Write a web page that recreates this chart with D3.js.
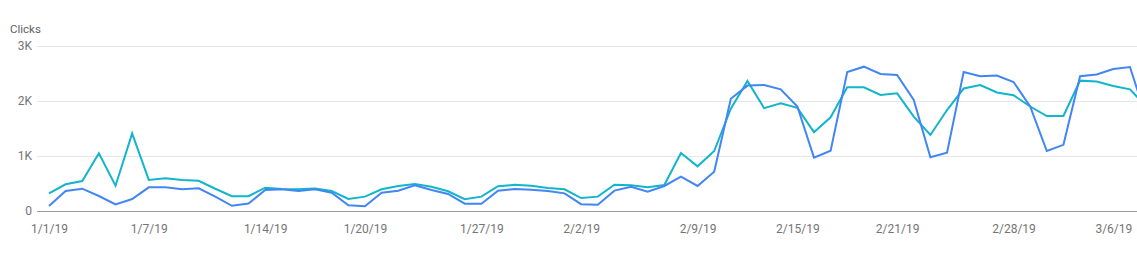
<!DOCTYPE html>
<html>
<head>
<meta charset="utf-8">
<script src="https://cdn.jsdelivr.net/npm/d3@7"></script>
<style>
  html, body { margin: 0; padding: 0; background: #fff; }
  svg { display: block; font-family: Roboto, "Noto Sans", Arial, sans-serif; }
</style>
</head>
<body>
<svg id="chart" width="1137" height="257"></svg>
<script>
// ---- data ----
const startDate = new Date(2019, 0, 1);
const dayCount = 67; // 1/1/19 .. 3/8/19 (last one partly cropped)
const dates = d3.range(dayCount).map(i => d3.timeDay.offset(startDate, i));

const seriesCyan = [320, 485, 545, 1050, 460, 1410, 565, 595, 565, 550,
  405, 270, 270, 424, 400, 394, 408, 364, 218, 261,
  394, 455, 491, 442, 358, 215, 261, 450, 476, 458,
  420, 394, 236, 261, 479, 467, 430, 473, 1055, 812,
  1091, 1860, 2364, 1870, 1960, 1875, 1433, 1703, 2248, 2248,
  2109, 2139, 1715, 1382, 1836, 2227, 2291, 2155, 2105, 1900,
  1727, 1727, 2370, 2355, 2273, 2212, 1895];

const seriesBlue = [91, 364, 406, 273, 121, 218, 430, 430, 397, 412,
  261, 94, 136, 382, 394, 364, 394, 333, 103, 85,
  333, 370, 467, 382, 309, 133, 133, 370, 400, 388,
  364, 321, 124, 115, 370, 442, 352, 455, 624, 455,
  715, 2040, 2280, 2291, 2212, 1900, 970, 1097, 2527, 2624,
  2491, 2473, 2018, 976, 1061, 2527, 2450, 2463, 2345, 1900,
  1091, 1203, 2450, 2482, 2582, 2618, 1690];

const xTickIndices = [0, 6, 13, 19, 26, 32, 39, 45, 51, 58, 64];
const yTicks = [0, 1000, 2000, 3000];
const yTickLabels = ["0", "1K", "2K", "3K"];
const yTitle = "Clicks";

// ---- layout ----
const svg = d3.select("#chart");
const plotLeft = 37, plotRight = 1160;
const x = d3.scaleLinear().domain([0, dayCount - 1]).range([49, 49 + 16.63 * (dayCount - 1)]);
const y = d3.scaleLinear().domain([0, 3000]).range([211, 46]);
const fmt = d3.timeFormat("%-m/%-d/%y");

// gridlines
svg.append("g").selectAll("line")
  .data(yTicks.filter(v => v > 0))
  .join("line")
  .attr("x1", plotLeft).attr("x2", plotRight)
  .attr("y1", d => Math.round(y(d)) + 0.5).attr("y2", d => Math.round(y(d)) + 0.5)
  .attr("stroke", "#e6e6e6").attr("stroke-width", 1);

// y axis labels
const yAxis = d3.axisLeft(y).tickValues(yTicks)
  .tickFormat((d, i) => yTickLabels[i]).tickSize(0).tickPadding(0);
const gy = svg.append("g").attr("transform", "translate(32,0)").call(yAxis);
gy.select(".domain").remove();
gy.selectAll("text").attr("fill", "#757575").style("font-size", "12px")
  .style("font-family", "Roboto, sans-serif");

// y title
svg.append("text").attr("x", 10).attr("y", 33)
  .attr("fill", "#616161").style("font-size", "11.5px").text(yTitle);

// lines
const line = d3.line().x((d, i) => x(i)).y(d => y(d));
svg.append("path").datum(seriesCyan)
  .attr("fill", "none").attr("stroke", "#12b5cb").attr("stroke-width", 2)
  .attr("stroke-linejoin", "miter").attr("d", line);
svg.append("path").datum(seriesBlue)
  .attr("fill", "none").attr("stroke", "#4285f4").attr("stroke-width", 2)
  .attr("stroke-linejoin", "miter").attr("d", line);

// baseline
svg.append("line").attr("x1", plotLeft).attr("x2", plotRight)
  .attr("y1", 211.5).attr("y2", 211.5)
  .attr("stroke", "#9e9e9e").attr("stroke-width", 1);

// x axis labels
const xAxis = d3.axisBottom(x).tickValues(xTickIndices)
  .tickFormat(i => fmt(dates[i])).tickSize(0).tickPadding(0);
const gx = svg.append("g").attr("transform", "translate(0,224)").call(xAxis);
gx.select(".domain").remove();
gx.selectAll("text").attr("fill", "#757575").style("font-size", "12px")
  .style("font-family", "Roboto, sans-serif");
</script>
</body>
</html>
